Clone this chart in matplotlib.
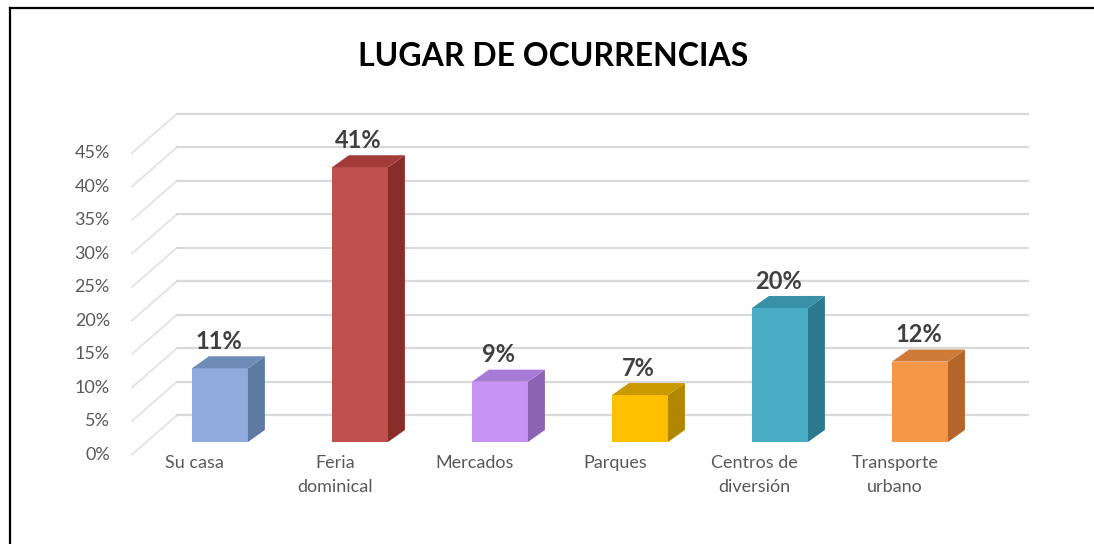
import matplotlib
matplotlib.use("Agg")
import matplotlib.pyplot as plt
from matplotlib.patches import Polygon
from matplotlib.lines import Line2D
import numpy as np

# data
categories = ["Su casa", "Feria\ndominical", "Mercados", "Parques",
              "Centros de\ndiversión", "Transporte\nurbano"]
values = [0.11, 0.41, 0.09, 0.07, 0.20, 0.12]
value_labels = ["11%", "41%", "9%", "7%", "20%", "12%"]
ticks = [0.00, 0.05, 0.10, 0.15, 0.20, 0.25, 0.30, 0.35, 0.40, 0.45]
tick_labels = ["0%", "5%", "10%", "15%", "20%", "25%", "30%", "35%", "40%", "45%"]

front_colors = ["#8faadc", "#c0504d", "#c593f3", "#ffc000", "#4bacc6", "#f79646"]
side_colors = ["#5d7aa3", "#8a2c2a", "#8c62b5", "#b38600", "#2c7a8e", "#b5642a"]
top_colors = ["#6f8cb8", "#a33c39", "#a67bd6", "#c99a00", "#3a90a7", "#cf7a38"]

plt.rcParams['font.family'] = ['Lato', 'DejaVu Sans']

fig = plt.figure(figsize=(10.94, 5.44), dpi=100)
ax = fig.add_axes([0, 0, 1, 1])
ax.set_xlim(-1.571, 6.243)
ax.set_ylim(-0.1522, 0.6597)
ax.axis("off")

# 3d look: bar depth and wall depth in data units
bar_w = 0.4
ddx, ddy = 0.121, 0.018
wall_front_x, wall_back_x, wall_end_x = -0.63, -0.307, 5.77
front_dy, back_dy = -0.019, 0.040

# gridlines (side wall diagonal + back wall horizontal)
for t, lab in zip(ticks, tick_labels):
    ax.plot([wall_front_x, wall_back_x], [t + front_dy, t + back_dy],
            color="#e4e4e4", lw=1.4, zorder=1, solid_capstyle="round")
    ax.plot([wall_back_x, wall_end_x], [t + back_dy, t + back_dy],
            color="#d9d9d9", lw=1.6, zorder=1)
    ax.text(-0.786, t + front_dy, lab, ha="right", va="center",
            fontsize=13, color="#595959")

x = np.arange(len(values))
ax.bar(x, values, width=bar_w, color=front_colors, zorder=3)

for xi, v, sc, tc, lab in zip(x, values, side_colors, top_colors, value_labels):
    r = xi + bar_w / 2
    l = xi - bar_w / 2
    side = Polygon([(r, 0), (r + ddx, ddy), (r + ddx, v + ddy), (r, v)],
                   closed=True, facecolor=sc, edgecolor="none", zorder=3)
    top = Polygon([(l, v), (r, v), (r + ddx, v + ddy), (l + ddx, v + ddy)],
                  closed=True, facecolor=tc, edgecolor="none", zorder=3)
    ax.add_patch(side)
    ax.add_patch(top)
    ax.text(xi - 0.01, v + ddy + 0.005, lab, ha="center", va="bottom",
            fontsize=17, fontweight="bold", color="#404040", zorder=4)

for xi, cat in zip(x, categories):
    ax.text(xi - 0.18, -0.02, cat, ha="center", va="top", fontsize=13,
            color="#595959", linespacing=1.6)

fig.text(0.506, 0.897, "LUGAR DE OCURRENCIAS", ha="center", va="center",
         fontsize=23, fontweight="bold", color="black")

# outer frame (left and top edges visible)
fig.add_artist(Line2D([10 / 1094, 10 / 1094], [0, 1 - 8 / 544], color="black",
                      lw=1.6, transform=fig.transFigure))
fig.add_artist(Line2D([10 / 1094, 1093 / 1094], [1 - 8 / 544, 1 - 8 / 544],
                      color="black", lw=1.6, transform=fig.transFigure))

fig.savefig("out.png", dpi=100, facecolor="white")
